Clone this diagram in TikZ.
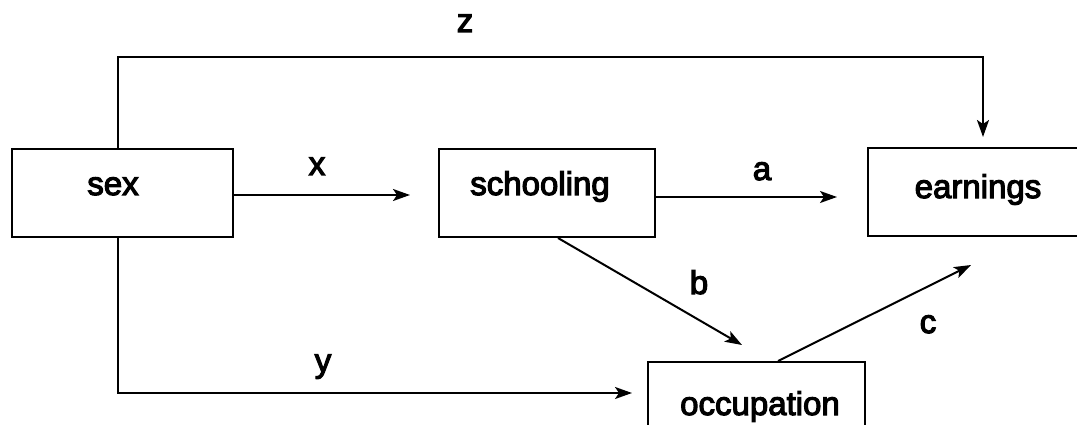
\documentclass[tikz,border=0pt]{standalone}
\usepackage{fontspec}
\setmainfont{Liberation Sans}
\newfontfamily\lblfont[FakeBold=3.5]{Liberation Sans}
\usetikzlibrary{arrows.meta}
\tikzset{
  box/.style={draw, line width=2pt, rectangle, inner sep=0pt},
  lbl/.style={anchor=base, inner sep=0pt, font=\lblfont\fontsize{33}{40}\selectfont},
  arr/.style={line width=2pt, -{Stealth[length=17pt,width=12pt,inset=4pt]}}
}
\begin{document}
\begin{tikzpicture}[x=1pt,y=-1pt]
\useasboundingbox (0,0) rectangle (1077,425);
\clip (0,0) rectangle (1077,425);
% boxes
\node[box, minimum width=221pt, minimum height=88pt] (sex) at (122.5,193) {};
\node[box, minimum width=216pt, minimum height=88pt] (school) at (547,193) {};
\node[box, minimum width=222pt, minimum height=88pt] (earn) at (979,192) {};
\node[box, minimum width=217pt, minimum height=110pt] (occ) at (756.5,417) {};
% box texts
\node[lbl] (sext) at (113,195) {sex};
\node[lbl] (schoolt) at (540,195) {schooling};
\node[lbl] (earnt) at (978,198) {earnings};
\node[lbl] (occt) at (760,415) {occupation};
% free ends
\coordinate (ztop) at (118,57);
\coordinate (zend) at (983,137);
\coordinate (yend) at (632,393);
\coordinate (xend) at (410,195);
\coordinate (aend) at (837,197);
\coordinate (bend) at (742,345);
\coordinate (cend) at (971,265);
% connectors
\draw[arr] (sex.north -| ztop) -- (ztop) -| (zend);
\draw[arr] (sex.south -| ztop) |- (yend);
\draw[arr] (sex.east |- xend) -- (xend);
\draw[arr] (school.east |- aend) -- (aend);
\draw[arr] ([xshift=11pt]school.south) -- (bend);
\draw[arr] ([xshift=21.5pt]occ.north) -- (cend);
% path labels
\node[lbl] (zl) at (465,32) {z};
\node[lbl] (xl) at (317,175) {x};
\node[lbl] (al) at (762,180) {a};
\node[lbl] (bl) at (699,294) {b};
\node[lbl] (yl) at (323,372) {y};
\node[lbl] (cl) at (928,333) {c};
\end{tikzpicture}
\end{document}
